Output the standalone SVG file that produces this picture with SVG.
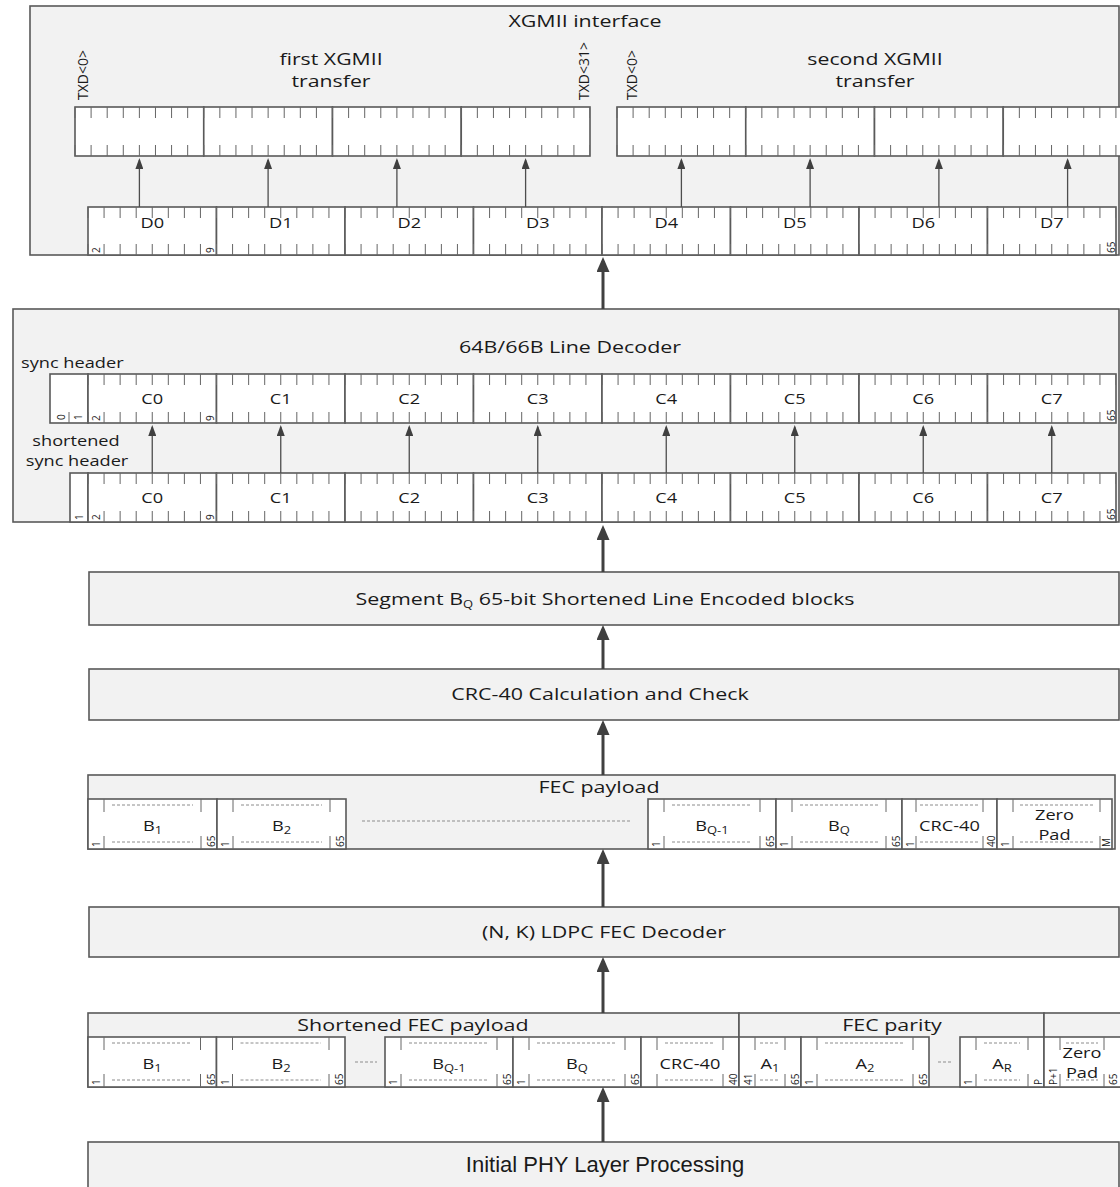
<svg xmlns="http://www.w3.org/2000/svg" width="1120" height="1187" viewBox="0 0 1120 1187">
<defs>
<style>
.bg{fill:#f2f2f2;stroke:#595959;stroke-width:1.6}
.reg{fill:#fff;stroke:#595959;stroke-width:1.6}
.tk{fill:none;stroke:#666;stroke-width:11}
.tk1{fill:none;stroke:#666;stroke-width:1}
.ds{fill:none;stroke:#8c8c8c;stroke-width:1;stroke-dasharray:3 2}
.t{font-family:"Open Sans","DejaVu Sans",sans-serif;fill:#1a1a1a}
.l{font-size:16.5px;text-anchor:middle}
.l2{font-size:16px;text-anchor:middle}
.m{font-size:14px;text-anchor:middle}
.ms{font-size:14px}
.n{font-size:10px}
.r{font-size:14px}
.s{font-size:10px}
.p{font-family:"Liberation Sans",Arial,sans-serif;font-size:22px;text-anchor:middle;fill:#1a1a1a}
.c{stroke:#4d4d4d;stroke-width:1.3;fill:none;marker-end:url(#a)}
.C{stroke:#404040;stroke-width:3;fill:none;marker-end:url(#A)}
</style>
<marker id="a" markerUnits="userSpaceOnUse" markerWidth="11" markerHeight="8" refX="9" refY="4" orient="auto"><path d="M0,0L11,4L0,8z" fill="#404040"/></marker>
<marker id="A" markerUnits="userSpaceOnUse" markerWidth="15" markerHeight="13" refX="11" refY="6.5" orient="auto"><path d="M0,0L15,6.5L0,13z" fill="#404040"/></marker>
</defs>

<g id="xgmii">
<rect class="bg" x="30" y="6" width="1089" height="249"/>
<text class="t l" transform="translate(585 27) scale(1.3 1)">XGMII interface</text>
<text class="t l2" transform="translate(331 65) scale(1.33 1)">first XGMII</text>
<text class="t l2" transform="translate(331 87) scale(1.33 1)">transfer</text>
<text class="t l2" transform="translate(875 65) scale(1.33 1)">second XGMII</text>
<text class="t l2" transform="translate(875 87) scale(1.33 1)">transfer</text>
<text class="t r" transform="translate(88 100) rotate(-90)">TXD&lt;0&gt;</text>
<text class="t r" transform="translate(589 100) rotate(-90)">TXD&lt;31&gt;</text>
<text class="t r" transform="translate(637 100) rotate(-90)">TXD&lt;0&gt;</text>
<g id="txd-first">
<rect class="reg" x="75" y="107" width="128.75" height="49"/>
<rect class="reg" x="203.75" y="107" width="128.75" height="49"/>
<rect class="reg" x="332.5" y="107" width="128.75" height="49"/>
<rect class="reg" x="461.25" y="107" width="128.75" height="49"/>
<path class="tk" d="M74.5,112.5H590M74.5,150.5H590" stroke-dasharray="1 15.094"/>
</g>
<g id="txd-second">
<rect class="reg" x="617" y="107" width="128.75" height="49"/>
<rect class="reg" x="745.75" y="107" width="128.75" height="49"/>
<rect class="reg" x="874.5" y="107" width="128.75" height="49"/>
<rect class="reg" x="1003.25" y="107" width="128.75" height="49"/>
<path class="tk" d="M616.5,112.5H1132M616.5,150.5H1132" stroke-dasharray="1 15.094"/>
</g>
<g id="d-row">
<rect class="reg" x="88" y="207" width="128.5" height="48"/>
<rect class="reg" x="216.5" y="207" width="128.5" height="48"/>
<rect class="reg" x="345" y="207" width="128.5" height="48"/>
<rect class="reg" x="473.5" y="207" width="128.5" height="48"/>
<rect class="reg" x="602" y="207" width="128.5" height="48"/>
<rect class="reg" x="730.5" y="207" width="128.5" height="48"/>
<rect class="reg" x="859" y="207" width="128.5" height="48"/>
<rect class="reg" x="987.5" y="207" width="128.5" height="48"/>
<path class="tk" d="M87.5,212.5H1116M87.5,249.5H1116" stroke-dasharray="1 15.0625"/>
<text class="t m" transform="translate(152.25 228) scale(1.3 1)">D0</text>
<text class="t m" transform="translate(280.75 228) scale(1.3 1)">D1</text>
<text class="t m" transform="translate(409.25 228) scale(1.3 1)">D2</text>
<text class="t m" transform="translate(537.75 228) scale(1.3 1)">D3</text>
<text class="t m" transform="translate(666.25 228) scale(1.3 1)">D4</text>
<text class="t m" transform="translate(794.75 228) scale(1.3 1)">D5</text>
<text class="t m" transform="translate(923.25 228) scale(1.3 1)">D6</text>
<text class="t m" transform="translate(1051.75 228) scale(1.3 1)">D7</text>
<text class="t n" transform="translate(100 253) rotate(-90)">2</text>
<text class="t n" transform="translate(214 253) rotate(-90)">9</text>
<text class="t n" transform="translate(1115 253) rotate(-90)">65</text>
</g>
</g>

<g id="line-decoder">
<rect class="bg" x="13" y="309" width="1106" height="213"/>
<text class="t l" transform="translate(570 353) scale(1.3 1)">64B/66B Line Decoder</text>
<text class="t ms" transform="translate(21 368) scale(1.3 1)">sync header</text>
<text class="t m" transform="translate(76 446) scale(1.3 1)">shortened</text>
<text class="t m" transform="translate(77 466) scale(1.3 1)">sync header</text>
<g id="c-row-upper">
<rect class="reg" x="50" y="374" width="38" height="49"/>
<path class="tk1" d="M69,412V423"/>
<rect class="reg" x="88" y="374" width="128.5" height="49"/>
<rect class="reg" x="216.5" y="374" width="128.5" height="49"/>
<rect class="reg" x="345" y="374" width="128.5" height="49"/>
<rect class="reg" x="473.5" y="374" width="128.5" height="49"/>
<rect class="reg" x="602" y="374" width="128.5" height="49"/>
<rect class="reg" x="730.5" y="374" width="128.5" height="49"/>
<rect class="reg" x="859" y="374" width="128.5" height="49"/>
<rect class="reg" x="987.5" y="374" width="128.5" height="49"/>
<path class="tk" d="M87.5,379.5H1116M87.5,417.5H1116" stroke-dasharray="1 15.0625"/>
<text class="t m" transform="translate(152.25 404) scale(1.3 1)">C0</text>
<text class="t m" transform="translate(280.75 404) scale(1.3 1)">C1</text>
<text class="t m" transform="translate(409.25 404) scale(1.3 1)">C2</text>
<text class="t m" transform="translate(537.75 404) scale(1.3 1)">C3</text>
<text class="t m" transform="translate(666.25 404) scale(1.3 1)">C4</text>
<text class="t m" transform="translate(794.75 404) scale(1.3 1)">C5</text>
<text class="t m" transform="translate(923.25 404) scale(1.3 1)">C6</text>
<text class="t m" transform="translate(1051.75 404) scale(1.3 1)">C7</text>
<text class="t n" transform="translate(65 420) rotate(-90)">0</text>
<text class="t n" transform="translate(82 420) rotate(-90)">1</text>
<text class="t n" transform="translate(100 421) rotate(-90)">2</text>
<text class="t n" transform="translate(214 421) rotate(-90)">9</text>
<text class="t n" transform="translate(1115 421) rotate(-90)">65</text>
</g>
<g id="c-row-lower">
<rect class="reg" x="70" y="473" width="18" height="49"/>
<rect class="reg" x="88" y="473" width="128.5" height="49"/>
<rect class="reg" x="216.5" y="473" width="128.5" height="49"/>
<rect class="reg" x="345" y="473" width="128.5" height="49"/>
<rect class="reg" x="473.5" y="473" width="128.5" height="49"/>
<rect class="reg" x="602" y="473" width="128.5" height="49"/>
<rect class="reg" x="730.5" y="473" width="128.5" height="49"/>
<rect class="reg" x="859" y="473" width="128.5" height="49"/>
<rect class="reg" x="987.5" y="473" width="128.5" height="49"/>
<path class="tk" d="M87.5,478.5H1116M87.5,516.5H1116" stroke-dasharray="1 15.0625"/>
<text class="t m" transform="translate(152.25 503) scale(1.3 1)">C0</text>
<text class="t m" transform="translate(280.75 503) scale(1.3 1)">C1</text>
<text class="t m" transform="translate(409.25 503) scale(1.3 1)">C2</text>
<text class="t m" transform="translate(537.75 503) scale(1.3 1)">C3</text>
<text class="t m" transform="translate(666.25 503) scale(1.3 1)">C4</text>
<text class="t m" transform="translate(794.75 503) scale(1.3 1)">C5</text>
<text class="t m" transform="translate(923.25 503) scale(1.3 1)">C6</text>
<text class="t m" transform="translate(1051.75 503) scale(1.3 1)">C7</text>
<text class="t n" transform="translate(83 520) rotate(-90)">1</text>
<text class="t n" transform="translate(100 520) rotate(-90)">2</text>
<text class="t n" transform="translate(214 520) rotate(-90)">9</text>
<text class="t n" transform="translate(1115 520) rotate(-90)">65</text>
</g>
</g>

<g id="segment">
<rect class="bg" x="89" y="572" width="1030" height="53"/>
<text class="t l" transform="translate(605 605) scale(1.3 1)">Segment B<tspan class="s" dy="3">Q</tspan><tspan dy="-3"> 65-bit Shortened Line Encoded blocks</tspan></text>
</g>

<g id="crc">
<rect class="bg" x="89" y="669" width="1030" height="51"/>
<text class="t l" transform="translate(600 700) scale(1.3 1)">CRC-40 Calculation and Check</text>
</g>

<g id="fec-payload">
<rect class="bg" x="88" y="775" width="1027" height="74"/>
<text class="t l" transform="translate(599 793) scale(1.3 1)">FEC payload</text>
<rect class="reg" x="88" y="799" width="129" height="50"/>
<rect class="reg" x="217" y="799" width="129" height="50"/>
<rect class="reg" x="648" y="799" width="128" height="50"/>
<rect class="reg" x="776" y="799" width="126" height="50"/>
<rect class="reg" x="902" y="799" width="95" height="50"/>
<rect class="reg" x="997" y="799" width="115" height="50"/>
<path class="tk1" d="M104,799v13M201,799v13M104,849v-13M201,849v-13M233,799v13M330,799v13M233,849v-13M330,849v-13M664,799v13M760,799v13M664,849v-13M760,849v-13M792,799v13M886,799v13M792,849v-13M886,849v-13M916,799v13M983,799v13M916,849v-13M983,849v-13M1013,799v13M1100,799v13M1013,849v-13M1100,849v-13"/>
<path class="ds" d="M112,805H193M112,842H193M241,805H322M241,842H322M672,805H752M672,842H752M800,805H878M800,842H878M920,805H980M920,842H980M1020,805H1093M1020,842H1093M362,821H630"/>
<text class="t m" transform="translate(152.5 831) scale(1.3 1)">B<tspan class="s" dy="3">1</tspan></text>
<text class="t m" transform="translate(281.5 831) scale(1.3 1)">B<tspan class="s" dy="3">2</tspan></text>
<text class="t m" transform="translate(712 831) scale(1.3 1)">B<tspan class="s" dy="3">Q-1</tspan></text>
<text class="t m" transform="translate(839 831) scale(1.3 1)">B<tspan class="s" dy="3">Q</tspan></text>
<text class="t m" transform="translate(949.5 831) scale(1.3 1)">CRC-40</text>
<text class="t m" transform="translate(1054.5 820) scale(1.3 1)">Zero</text>
<text class="t m" transform="translate(1054.5 840) scale(1.3 1)">Pad</text>
<text class="t n" transform="translate(100 847) rotate(-90)">1</text>
<text class="t n" transform="translate(215 847) rotate(-90)">65</text>
<text class="t n" transform="translate(229 847) rotate(-90)">1</text>
<text class="t n" transform="translate(344 847) rotate(-90)">65</text>
<text class="t n" transform="translate(660 847) rotate(-90)">1</text>
<text class="t n" transform="translate(774 847) rotate(-90)">65</text>
<text class="t n" transform="translate(788 847) rotate(-90)">1</text>
<text class="t n" transform="translate(900 847) rotate(-90)">65</text>
<text class="t n" transform="translate(914 847) rotate(-90)">1</text>
<text class="t n" transform="translate(995 847) rotate(-90)">40</text>
<text class="t n" transform="translate(1009 847) rotate(-90)">1</text>
<text class="t n" transform="translate(1110 847) rotate(-90)">M</text>
</g>

<g id="ldpc">
<rect class="bg" x="89" y="907" width="1030" height="50"/>
<text class="t l" transform="translate(604 938) scale(1.3 1)">(N, K) LDPC FEC Decoder</text>
</g>

<g id="shortened-fec">
<rect class="bg" x="88" y="1013" width="651" height="74"/>
<rect class="bg" x="739" y="1013" width="305" height="74"/>
<rect class="bg" x="1044" y="1013" width="80" height="74"/>
<text class="t l" transform="translate(413 1031) scale(1.3 1)">Shortened FEC payload</text>
<text class="t l" transform="translate(892 1031) scale(1.3 1)">FEC parity</text>
<rect class="reg" x="88" y="1037" width="128.5" height="50"/>
<rect class="reg" x="216.5" y="1037" width="128.5" height="50"/>
<rect class="reg" x="385" y="1037" width="128" height="50"/>
<rect class="reg" x="513" y="1037" width="128" height="50"/>
<rect class="reg" x="641" y="1037" width="98" height="50"/>
<rect class="reg" x="739" y="1037" width="62" height="50"/>
<rect class="reg" x="801" y="1037" width="128" height="50"/>
<rect class="reg" x="960" y="1037" width="84" height="50"/>
<rect class="reg" x="1044" y="1037" width="80" height="50"/>
<path class="tk1" d="M104,1037v13M200.5,1037v13M104,1087v-13M200.5,1087v-13M232.5,1037v13M329,1037v13M232.5,1087v-13M329,1087v-13M401,1037v13M497,1037v13M401,1087v-13M497,1087v-13M529,1037v13M625,1037v13M529,1087v-13M625,1087v-13M657,1037v13M723,1037v13M657,1087v-13M723,1087v-13M755,1037v13M785,1037v13M755,1087v-13M785,1087v-13M817,1037v13M913,1037v13M817,1087v-13M913,1087v-13M976,1037v13M1028,1037v13M976,1087v-13M1028,1087v-13M1060,1037v13M1104,1037v13M1060,1087v-13M1104,1087v-13"/>
<path class="ds" d="M112,1043H192M112,1080H192M240.5,1043H321M240.5,1080H321M409,1043H489M409,1080H489M537,1043H617M537,1080H617M665,1043H715M665,1080H715M760,1043H780M760,1080H780M825,1043H905M825,1080H905M984,1043H1020M984,1080H1020M1066,1043H1098M1066,1080H1098M355,1062H377M938,1062H953"/>
<text class="t m" transform="translate(152 1069) scale(1.3 1)">B<tspan class="s" dy="3">1</tspan></text>
<text class="t m" transform="translate(281 1069) scale(1.3 1)">B<tspan class="s" dy="3">2</tspan></text>
<text class="t m" transform="translate(449 1069) scale(1.3 1)">B<tspan class="s" dy="3">Q-1</tspan></text>
<text class="t m" transform="translate(577 1069) scale(1.3 1)">B<tspan class="s" dy="3">Q</tspan></text>
<text class="t m" transform="translate(690 1069) scale(1.3 1)">CRC-40</text>
<text class="t m" transform="translate(770 1069) scale(1.3 1)">A<tspan class="s" dy="3">1</tspan></text>
<text class="t m" transform="translate(865 1069) scale(1.3 1)">A<tspan class="s" dy="3">2</tspan></text>
<text class="t m" transform="translate(1002 1069) scale(1.3 1)">A<tspan class="s" dy="3">R</tspan></text>
<text class="t m" transform="translate(1082 1058) scale(1.3 1)">Zero</text>
<text class="t m" transform="translate(1082 1078) scale(1.3 1)">Pad</text>
<text class="t n" transform="translate(100 1085) rotate(-90)">1</text>
<text class="t n" transform="translate(214.5 1085) rotate(-90)">65</text>
<text class="t n" transform="translate(228.5 1085) rotate(-90)">1</text>
<text class="t n" transform="translate(343 1085) rotate(-90)">65</text>
<text class="t n" transform="translate(397 1085) rotate(-90)">1</text>
<text class="t n" transform="translate(511 1085) rotate(-90)">65</text>
<text class="t n" transform="translate(525 1085) rotate(-90)">1</text>
<text class="t n" transform="translate(639 1085) rotate(-90)">65</text>
<text class="t n" transform="translate(737 1085) rotate(-90)">40</text>
<text class="t n" transform="translate(752 1085) rotate(-90)">41</text>
<text class="t n" transform="translate(799 1085) rotate(-90)">65</text>
<text class="t n" transform="translate(813 1085) rotate(-90)">1</text>
<text class="t n" transform="translate(927 1085) rotate(-90)">65</text>
<text class="t n" transform="translate(972 1085) rotate(-90)">1</text>
<text class="t n" transform="translate(1042 1085) rotate(-90)">P</text>
<text class="t n" transform="translate(1057 1085) rotate(-90)">P+1</text>
<text class="t n" transform="translate(1117 1085) rotate(-90)">65</text>
</g>

<g id="phy">
<rect class="bg" x="88" y="1142" width="1031" height="60"/>
<text class="p" x="605" y="1172">Initial PHY Layer Processing</text>
</g>

<g id="connectors">
<path class="c" d="M139.4,207V160"/>
<path class="c" d="M268.1,207V160"/>
<path class="c" d="M396.9,207V160"/>
<path class="c" d="M525.6,207V160"/>
<path class="c" d="M681.4,207V160"/>
<path class="c" d="M810.1,207V160"/>
<path class="c" d="M938.9,207V160"/>
<path class="c" d="M1067.6,207V160"/>
<path class="c" d="M152.25,473V427"/>
<path class="c" d="M280.75,473V427"/>
<path class="c" d="M409.25,473V427"/>
<path class="c" d="M537.75,473V427"/>
<path class="c" d="M666.25,473V427"/>
<path class="c" d="M794.75,473V427"/>
<path class="c" d="M923.25,473V427"/>
<path class="c" d="M1051.75,473V427"/>
<path class="C" d="M603,309V261"/>
<path class="C" d="M603,572V529"/>
<path class="C" d="M603,669V629"/>
<path class="C" d="M603,775V724"/>
<path class="C" d="M603,907V853"/>
<path class="C" d="M603,1013V961"/>
<path class="C" d="M603,1142V1091"/>
</g>
</svg>
